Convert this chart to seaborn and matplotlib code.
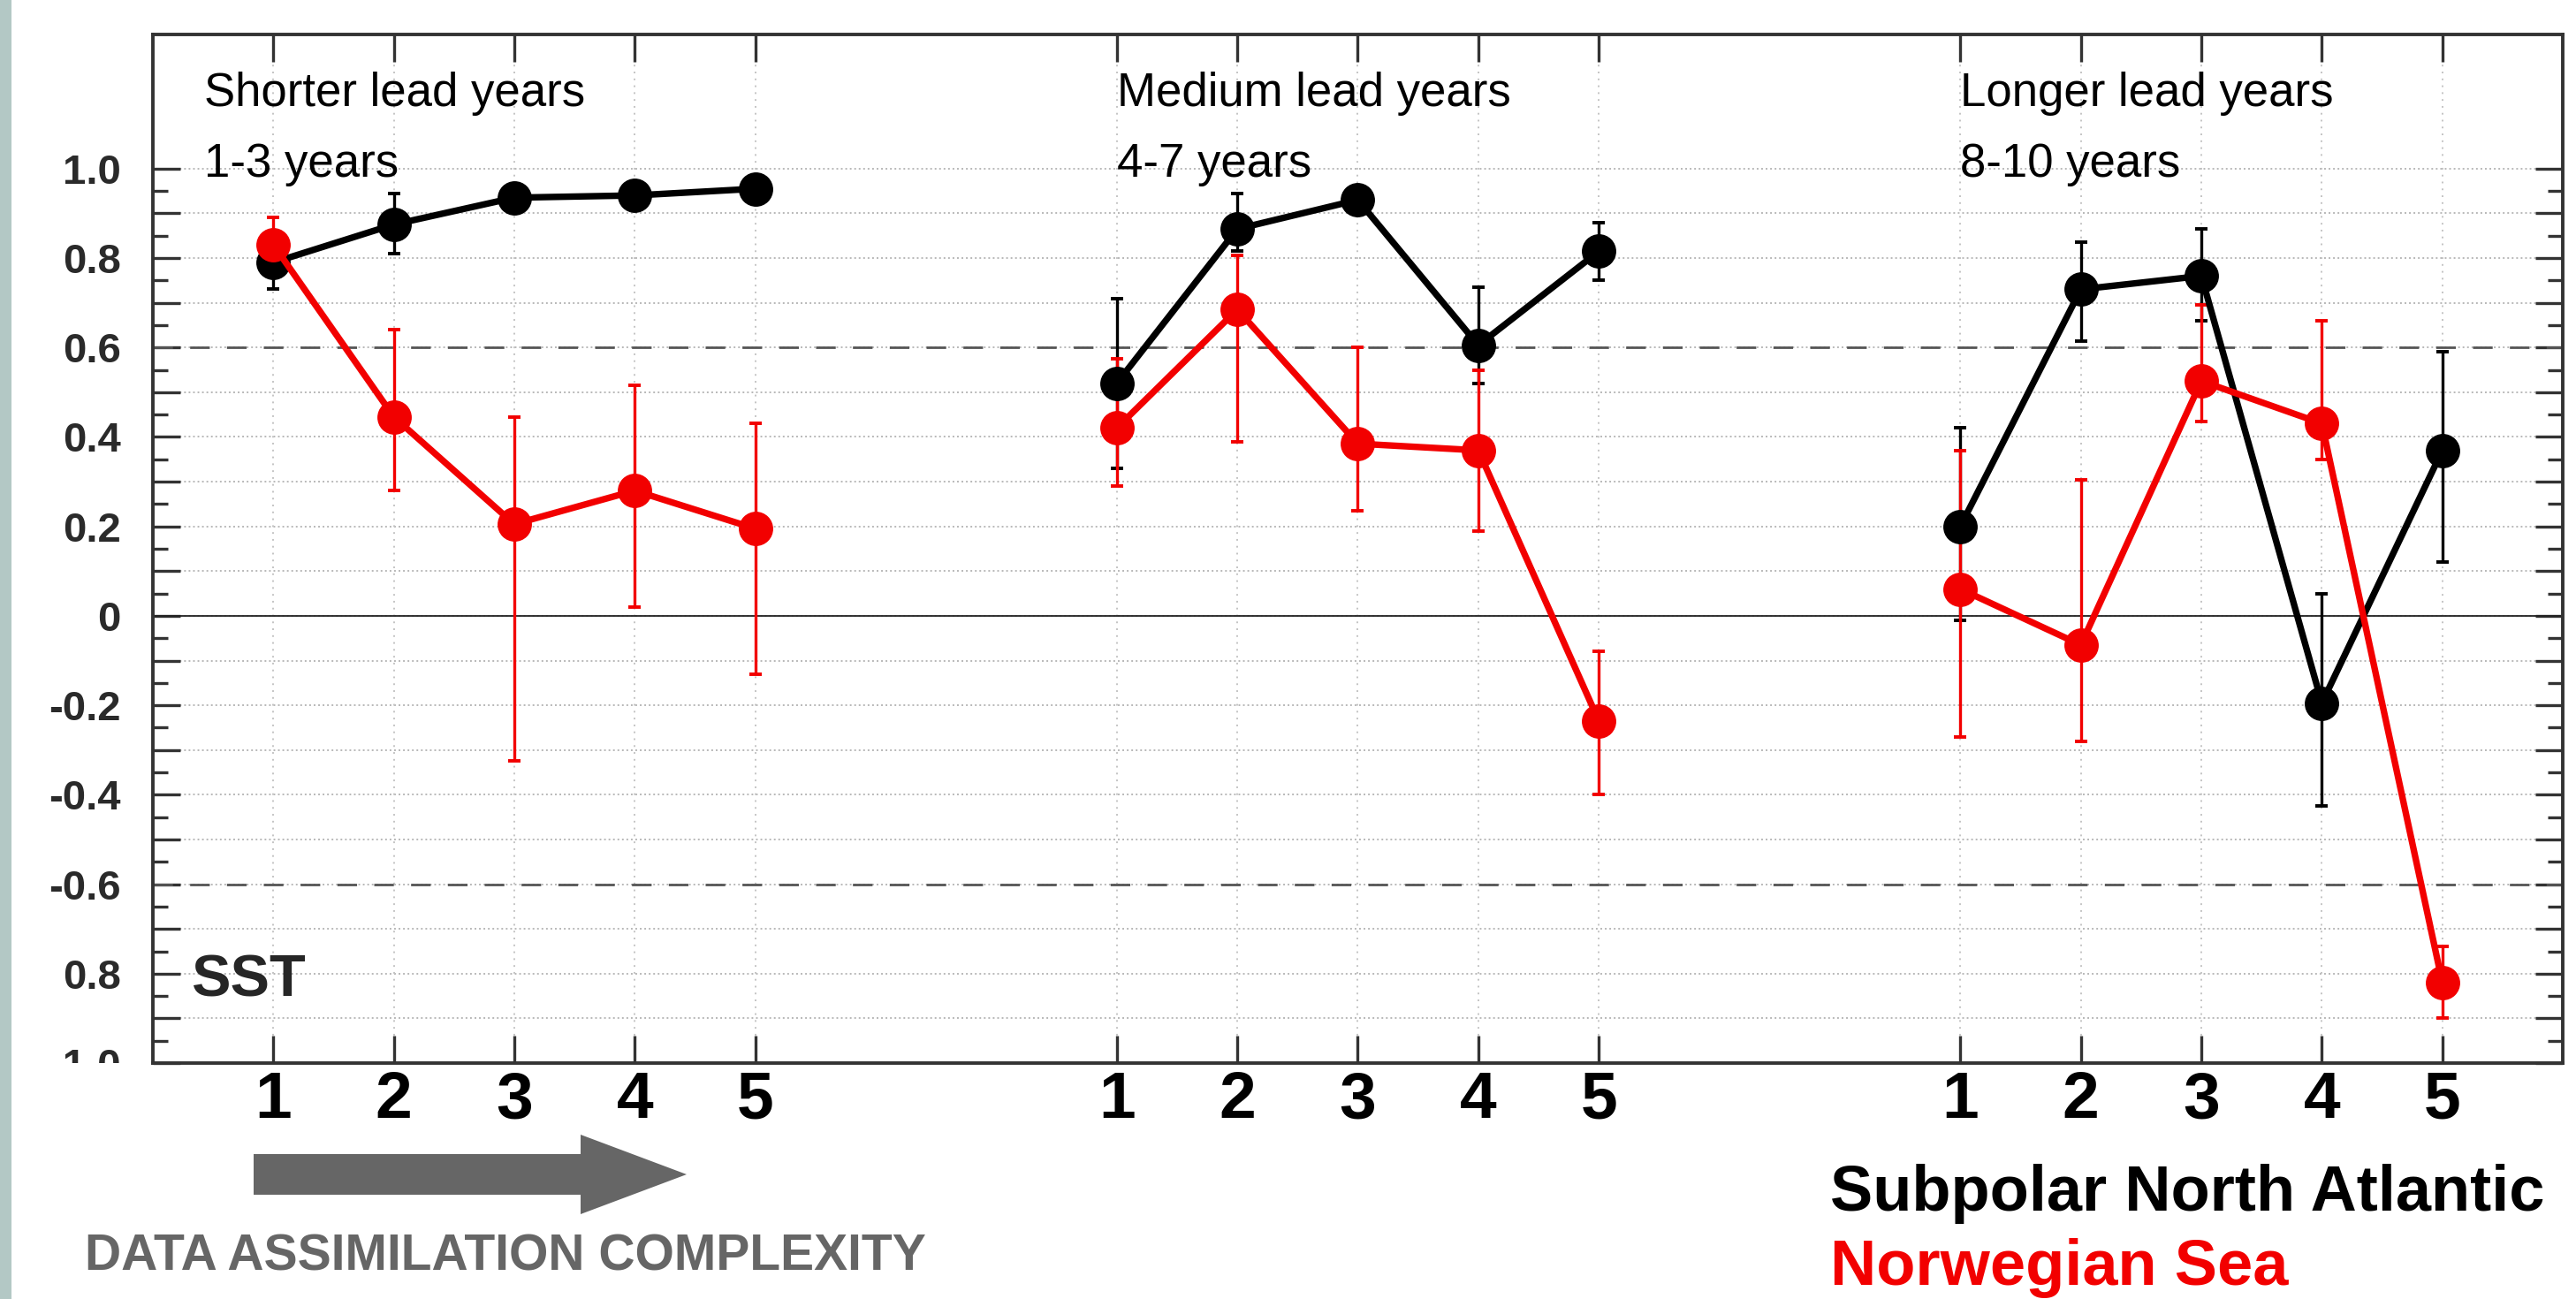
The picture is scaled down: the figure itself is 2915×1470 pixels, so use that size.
import matplotlib
matplotlib.use('Agg')
import matplotlib.pyplot as plt
import numpy as np
import pandas as pd
import seaborn as sns
from matplotlib.patches import FancyArrow, Rectangle
from matplotlib.transforms import Bbox, TransformedBbox


# lead-year groups, each with 5 data assimilation experiments
groups = ['Shorter lead years', 'Medium lead years', 'Longer lead years']
group_ranges = ['1-3 years', '4-7 years', '8-10 years']
experiments = [1, 2, 3, 4, 5]
group_offsets = [0, 7, 14]

# correlation skill, Subpolar North Atlantic (black)
spna = [0.79, 0.875, 0.935, 0.94, 0.955,
        0.52, 0.865, 0.93, 0.605, 0.815,
        0.20, 0.73, 0.76, -0.195, 0.37]
spna_lo = [0.73, 0.81, 0.935, 0.94, 0.955,
           0.33, 0.815, 0.93, 0.52, 0.75,
           -0.01, 0.615, 0.66, -0.425, 0.12]
spna_hi = [0.85, 0.945, 0.935, 0.94, 0.955,
           0.71, 0.945, 0.93, 0.735, 0.88,
           0.42, 0.835, 0.865, 0.05, 0.59]

# correlation skill, Norwegian Sea (red)
nws = [0.83, 0.445, 0.205, 0.28, 0.195,
       0.42, 0.685, 0.385, 0.37, -0.235,
       0.06, -0.065, 0.525, 0.43, -0.82]
nws_lo = [0.78, 0.28, -0.325, 0.02, -0.13,
          0.29, 0.39, 0.235, 0.19, -0.40,
          -0.27, -0.28, 0.435, 0.35, -0.90]
nws_hi = [0.89, 0.64, 0.445, 0.515, 0.43,
          0.575, 0.805, 0.60, 0.55, -0.08,
          0.37, 0.305, 0.695, 0.66, -0.74]

ytick_labels = ['-1.0', '0.8', '-0.6', '-0.4', '-0.2', '0', '0.2', '0.4', '0.6', '0.8', '1.0']

RED = '#f20000'
GRAY = '#666666'

sns.set_style('ticks')
plt.rcParams['font.family'] = ['Liberation Sans', 'DejaVu Sans']

# build a long table
xpos = [off + e for off in group_offsets for e in experiments]
gid = [g for g in groups for _ in experiments]
df = pd.concat([
    pd.DataFrame({'x': xpos, 'r': spna, 'lo': spna_lo, 'hi': spna_hi,
                  'group': gid, 'region': 'Subpolar North Atlantic'}),
    pd.DataFrame({'x': xpos, 'r': nws, 'lo': nws_lo, 'hi': nws_hi,
                  'group': gid, 'region': 'Norwegian Sea'}),
])
colors = {'Subpolar North Atlantic': 'black', 'Norwegian Sea': RED}

fig = plt.figure(figsize=(29.15, 14.7), dpi=100)
ax = fig.add_axes([0.0593, 0.1816, 0.9356, 0.7919])

# background reference lines
ygrid = np.round(np.arange(-0.9, 1.01, 0.1), 1)
for y in ygrid:
    ax.axhline(y, color='#b8b8b8', lw=1.4, ls=(0, (1, 1.6)), zorder=0)
for x in xpos:
    ax.axvline(x, color='#c4c4c4', lw=1.4, ls=(0, (1, 3)), zorder=0)
for y in (0.6, -0.6):
    ax.axhline(y, color='#555555', lw=2.0, ls=(0, (8, 7)), zorder=1)
ax.axhline(0, color='#222222', lw=1.3, zorder=1)

for region in ['Subpolar North Atlantic', 'Norwegian Sea']:
    d = df[df['region'] == region]
    ax.errorbar(d['x'], d['r'], yerr=[d['r'] - d['lo'], d['hi'] - d['r']],
                fmt='none', ecolor=colors[region], elinewidth=2.4,
                capsize=5, capthick=2.8, zorder=2)
    sns.lineplot(data=d, x='x', y='r', units='group', estimator=None, sort=False,
                 color=colors[region], marker='o', markersize=28, markeredgewidth=0,
                 linewidth=5.3, legend=False, ax=ax, zorder=3)

ax.set_xlim(0, 20)
ax.set_ylim(-1.0, 1.3)
ax.set_xlabel('')
ax.set_ylabel('')

ax.set_xticks(xpos)
ax.set_xticklabels([str(e) for _ in groups for e in experiments],
                   fontsize=54, fontweight='bold', color='black')
yt = np.round(np.arange(-1.0, 1.01, 0.1), 1)
ax.set_yticks(yt)
ylabs = []
for i in range(len(yt)):
    ylabs.append(ytick_labels[i // 2] if i % 2 == 0 else '')
ax.set_yticklabels(ylabs, fontsize=34, fontweight='bold', color='#2a2a2a')
ax.set_yticks(np.round(np.arange(-0.95, 1.0, 0.1), 2), minor=True)

ax.tick_params(axis='x', which='major', direction='in', length=22, width=2.4,
               color='#333333', top=True, bottom=True, pad=6)
ax.tick_params(axis='y', which='major', direction='in', length=22, width=2.4,
               color='#333333', left=True, right=True, pad=26)
ax.tick_params(axis='y', which='minor', direction='in', length=12, width=2.4,
               color='#333333', left=True, right=True)
for sp in ax.spines.values():
    sp.set_linewidth(2.8)
    sp.set_color('#333333')

# bottom label of y axis is cut by the frame in the original
clip = TransformedBbox(Bbox([[0, 0.1816], [1, 1]]), fig.transFigure)
lab = ax.get_yticklabels()[0]
lab.set_clip_on(True)
lab.set_clip_box(clip)

# group headers
header_x = [0.425, 8.0, 15.0]
for hx, g, rng in zip(header_x, groups, group_ranges):
    ax.text(hx, 1.139, g, fontsize=38, color='black', va='baseline', ha='left')
    ax.text(hx, 0.982, rng, fontsize=38, color='black', va='baseline', ha='left')

ax.text(0.32, -0.85, 'SST', fontsize=48, fontweight='bold', va='baseline', ha='left')

# side strip
fig.add_artist(Rectangle((0, 0), 13 / 2915, 1, transform=fig.transFigure,
                         color='#b3c8c5', lw=0))

# arrow + caption for assimilation complexity
fig.add_artist(FancyArrow(2.87, 1.41, 4.9, 0, width=0.46, head_width=0.9,
                          head_length=1.2, length_includes_head=True,
                          transform=fig.dpi_scale_trans, color=GRAY, lw=0))
fig.text(0.033, 0.0224, 'DATA ASSIMILATION COMPLEXITY', fontsize=41,
         fontweight='bold', color=GRAY, va='baseline', ha='left')

fig.text(0.7105, 0.068, 'Subpolar North Atlantic', fontsize=52, fontweight='bold',
         color='black', va='baseline', ha='left')
fig.text(0.7105, 0.011, 'Norwegian Sea', fontsize=52, fontweight='bold',
         color=RED, va='baseline', ha='left')

fig.savefig('out.png', dpi=100)
